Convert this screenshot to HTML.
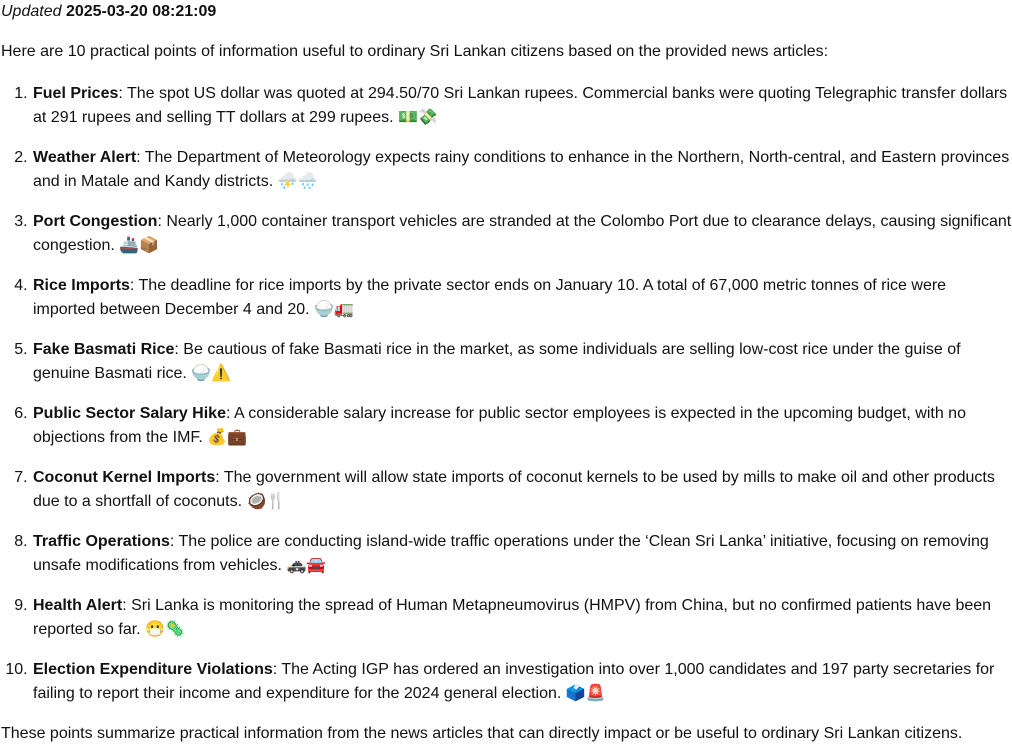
<!DOCTYPE html>
<html>
<head>
<meta charset="utf-8">
<style>
  html,body{margin:0;padding:0;background:#fff;}
  body{width:1012px;height:744px;overflow:hidden;font-family:"Liberation Sans",sans-serif;font-size:16px;line-height:24px;color:#111;padding-left:1px;box-sizing:border-box;}
  p{margin:0 0 16px 0;}
  p.intro{margin-bottom:18px;}
  ol{margin:0 0 16px 0;padding-left:31px;}
  li{margin:0 0 16px 0;padding-left:1px;}
  b{font-weight:bold;}
</style>
</head>
<body>
<p><i>Updated</i> <b>2025-03-20 08:21:09</b></p>
<p class="intro">Here are 10 practical points of information useful to ordinary Sri Lankan citizens based on the provided news articles:</p>
<ol>
<li><b>Fuel Prices</b>: The spot US dollar was quoted at 294.50/70 Sri Lankan rupees. Commercial banks were quoting Telegraphic transfer dollars at 291 rupees and selling TT dollars at 299 rupees. 💵💸</li>
<li><b>Weather Alert</b>: The Department of Meteorology expects rainy conditions to enhance in the Northern, North-central, and Eastern provinces and in Matale and Kandy districts. ⛈️🌧️</li>
<li><b>Port Congestion</b>: Nearly 1,000 container transport vehicles are stranded at the Colombo Port due to clearance delays, causing significant congestion. 🚢📦</li>
<li><b>Rice Imports</b>: The deadline for rice imports by the private sector ends on January 10. A total of 67,000 metric tonnes of rice were imported between December 4 and 20. 🍚🚛</li>
<li><b>Fake Basmati Rice</b>: Be cautious of fake Basmati rice in the market, as some individuals are selling low-cost rice under the guise of genuine Basmati rice. 🍚⚠️</li>
<li><b>Public Sector Salary Hike</b>: A considerable salary increase for public sector employees is expected in the upcoming budget, with no objections from the IMF. 💰💼</li>
<li><b>Coconut Kernel Imports</b>: The government will allow state imports of coconut kernels to be used by mills to make oil and other products due to a shortfall of coconuts. 🥥🍴</li>
<li><b>Traffic Operations</b>: The police are conducting island-wide traffic operations under the ‘Clean Sri Lanka’ initiative, focusing on removing unsafe modifications from vehicles. 🚓🚘</li>
<li><b>Health Alert</b>: Sri Lanka is monitoring the spread of Human Metapneumovirus (HMPV) from China, but no confirmed patients have been reported so far. 😷🦠</li>
<li><b>Election Expenditure Violations</b>: The Acting IGP has ordered an investigation into over 1,000 candidates and 197 party secretaries for failing to report their income and expenditure for the 2024 general election. 🗳️🚨</li>
</ol>
<p>These points summarize practical information from the news articles that can directly impact or be useful to ordinary Sri Lankan citizens.</p>
</body>
</html>
